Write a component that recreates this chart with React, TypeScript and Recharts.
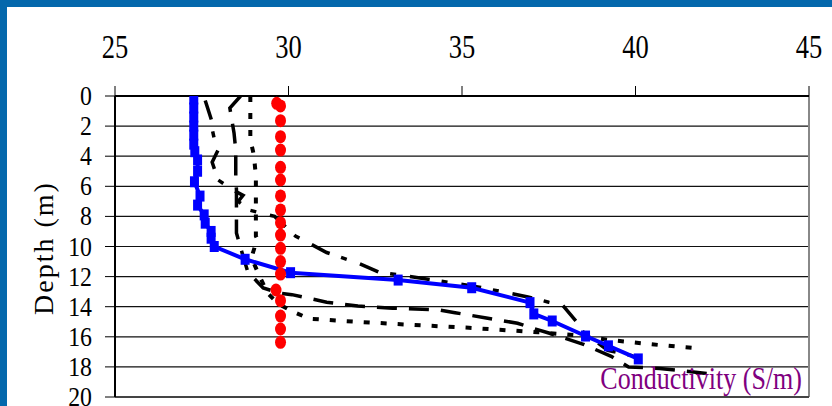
import { CartesianGrid, Line, LineChart, ReferenceLine, XAxis, YAxis } from "recharts";

// blue series with square markers
const blueDepth = [0.2, 0.8, 1.4, 2.0, 2.6, 3.2, 3.7, 4.25, 5.0, 5.7, 6.65, 7.25, 7.9, 8.45, 9.0, 9.45, 10.0, 10.85, 11.74, 12.23, 12.74, 13.73, 14.48, 14.95, 15.95, 16.6, 17.47];
const blueCond = [27.27, 27.27, 27.27, 27.27, 27.27, 27.27, 27.3, 27.38, 27.38, 27.29, 27.45, 27.38, 27.57, 27.6, 27.77, 27.77, 27.86, 28.75, 30.06, 33.16, 35.28, 36.96, 37.07, 37.6, 38.56, 39.22, 40.08];

// red dots
const redDepth = [0.49, 0.66, 1.64, 2.7, 3.59, 4.74, 5.58, 6.64, 7.57, 8.42, 9.24, 10.12, 11.0, 11.83, 12.89, 13.6, 14.62, 15.48, 16.37];
const redCond = [29.66, 29.77, 29.77, 29.77, 29.77, 29.77, 29.77, 29.77, 29.77, 29.77, 29.77, 29.77, 29.77, 29.77, 29.64, 29.77, 29.77, 29.77, 29.77];

// long dash
const dashDepth = [0.0, 0.8, 2.45, 3.6, 5.25, 6.25, 8.0, 9.1, 10.4, 11.7, 12.75, 13.1, 13.2, 13.4, 13.7, 13.95, 14.1, 14.2, 14.4, 14.75, 15.1, 15.4, 15.75, 16.5, 17.3, 18.0, 18.1, 18.5];
const dashCond = [28.62, 28.31, 28.43, 28.48, 28.48, 28.5, 28.5, 28.5, 28.66, 28.83, 29.27, 29.75, 30.1, 30.5, 31.1, 32.0, 33.0, 34.3, 34.8, 35.7, 36.6, 37.0, 37.5, 38.5, 39.3, 39.8, 40.7, 42.3];

// dash-dot
const dashDotDepth = [0.3, 1.6, 2.2, 3.05, 3.6, 4.4, 5.58, 6.25, 6.6, 7.0, 7.6, 8.0, 9.3, 10.4, 11.1, 11.7, 12.2, 12.7, 13.35, 13.7, 13.9, 15.0, 15.7, 16.9, 17.3];
const dashDotCond = [27.6, 27.78, 27.8, 27.88, 27.97, 27.8, 27.97, 28.4, 28.69, 28.55, 28.9, 29.6, 30.2, 31.1, 32.0, 32.6, 34.1, 35.5, 36.9, 37.5, 37.9, 38.3, 38.5, 39.2, 40.0];

// dotted
const dotDepth = [0.0, 2.9, 3.9, 5.3, 9.3, 9.5, 10.6, 11.1, 11.9, 13.1, 13.8, 14.35, 14.8, 14.95, 15.15, 15.4, 15.7, 15.9, 16.2, 16.55, 16.75];
const dotCond = [28.9, 28.9, 29.0, 29.06, 29.06, 29.1, 28.95, 29.0, 29.15, 29.4, 29.7, 30.15, 30.6, 31.6, 33.1, 35.2, 37.2, 38.3, 39.2, 40.7, 41.7];

const condTicks = [25, 30, 35, 40, 45];
const depthTicks = [0, 2, 4, 6, 8, 10, 12, 14, 16, 18, 20];

const pts = (depth: number[], cond: number[]) => depth.map((d, i) => ({ v: cond[i], d }));

const FONT = "'Liberation Serif', 'Times New Roman', serif";

const TopTick = (props: any) => (
  <g transform={`translate(${props.x},58) scale(0.78,1)`}>
    <text textAnchor="middle" fontSize={34} fontFamily={FONT} fill="#000">
      {props.payload.value}
    </text>
  </g>
);

const LeftTick = (props: any) => (
  <g transform={`translate(92,${props.y + 9}) scale(0.85,1)`}>
    <text textAnchor="end" fontSize={28} fontFamily={FONT} fill="#000">
      {props.payload.value}
    </text>
  </g>
);

const SquareDot = (props: any) => (
  <rect key={`sq-${props.index}`} x={props.cx - 4.5} y={props.cy - 5.5} width={9} height={11} fill="#0000ff" />
);

const RedDot = (props: any) => (
  <ellipse key={`rd-${props.index}`} cx={props.cx} cy={props.cy} rx={5.5} ry={6.5} fill="#ff0000" />
);

const App = () => {
  return (
    <div style={{ position: "absolute", left: 0, top: 0, width: 832, height: 406, background: "#fff", overflow: "hidden" }}>
      <div style={{ position: "absolute", left: 0, top: 0, width: 832, height: 7, background: "#0468ac" }} />
      <div style={{ position: "absolute", left: 0, top: 0, width: 7, height: 406, background: "#0468ac" }} />
      <div style={{ position: "absolute", left: 0, top: 0 }}>
        <LineChart width={832} height={406} margin={{ top: 0, right: 23, left: 0, bottom: 9 }}>
          <CartesianGrid vertical={false} stroke="#111" strokeWidth={1.2} />
          <XAxis
            type="number"
            dataKey="v"
            orientation="top"
            domain={[25, 45]}
            ticks={condTicks}
            allowDataOverflow
            height={96}
            tickSize={10}
            tick={<TopTick />}
            axisLine={{ stroke: "#000", strokeWidth: 2 }}
            tickLine={{ stroke: "#000" }}
          />
          <YAxis
            type="number"
            domain={[0, 20]}
            reversed
            ticks={depthTicks}
            interval={0}
            allowDataOverflow
            width={115}
            tickSize={10}
            tick={<LeftTick />}
            axisLine={{ stroke: "#000", strokeWidth: 2 }}
            tickLine={{ stroke: "#000" }}
          />
          <ReferenceLine x={45} stroke="#888" strokeWidth={2} />
          <ReferenceLine y={20} stroke="#444" strokeWidth={2} />
          <Line data={pts(dotDepth, dotCond)} dataKey="d" type="linear" stroke="#000" strokeWidth={4} strokeDasharray="6 11" dot={false} isAnimationActive={false} />
          <Line data={pts(dashDepth, dashCond)} dataKey="d" type="linear" stroke="#000" strokeWidth={3.5} strokeDasharray="20 12" dot={false} isAnimationActive={false} />
          <Line data={pts(dashDotDepth, dashDotCond)} dataKey="d" type="linear" stroke="#000" strokeWidth={3.5} strokeDasharray="20 12 6 14" dot={false} isAnimationActive={false} />
          <Line data={pts(redDepth, redCond)} dataKey="d" type="linear" stroke="none" dot={RedDot} isAnimationActive={false} />
          <Line data={pts(blueDepth, blueCond)} dataKey="d" type="linear" stroke="#0000ff" strokeWidth={4} dot={SquareDot} isAnimationActive={false} />
        </LineChart>
      </div>
      <svg width={832} height={406} style={{ position: "absolute", left: 0, top: 0, pointerEvents: "none" }}>
        <text transform="translate(53,248) rotate(-90)" textAnchor="middle" fontSize={28} letterSpacing={2} fontFamily={FONT} fill="#000">
          Depth (m)
        </text>
        <g transform="translate(802,389) scale(0.84,1)">
          <text textAnchor="end" fontSize={31} fontFamily={FONT} fill="#800080">
            Conductivity (S/m)
          </text>
        </g>
      </svg>
    </div>
  );
};

export default App;
